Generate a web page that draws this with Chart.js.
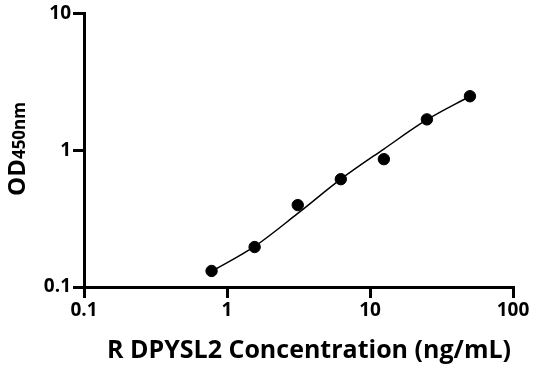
<!DOCTYPE html>
<html>
<head>
<meta charset="utf-8">
<script src="https://cdn.jsdelivr.net/npm/chart.js"></script>
<style>
  html, body { margin: 0; padding: 0; background: #fff; }
  #wrap { width: 536px; height: 371px; }
</style>
</head>
<body>
<div id="wrap"><canvas id="chart" width="536" height="371"></canvas></div>
<script>
    // ▼ 데이터
    const concentrations = [0.78, 1.56, 3.125, 6.25, 12.5, 25, 50];
    const odValues = [0.131, 0.196, 0.397, 0.614, 0.86, 1.68, 2.48];
    // ▼ 곡선(fit) 위치도 그림에서 읽은 값
    const fitX = [0.78, 1.56, 3.125, 6.25, 12.5, 25, 50];
    const fitY = [0.13, 0.198, 0.345, 0.614, 1.02, 1.67, 2.48];
    const xTicks = [0.1, 1, 10, 100];
    const yTicks = [0.1, 1, 10];

    const FONT = '"Open Sans", "DejaVu Sans", sans-serif';

    // ▼ 축 제목 그리기
    const titlePlugin = {
        id: 'titles',
        afterDraw(chart) {
            const ctx = chart.ctx;
            ctx.save();
            ctx.fillStyle = '#000';
            ctx.textBaseline = 'middle';
            ctx.textAlign = 'center';
            ctx.font = `bold 25px ${FONT}`;
            ctx.fillText('R DPYSL2 Concentration (ng/mL)', 309, 351);

            // OD450nm (세로)
            ctx.translate(16, 149);
            ctx.rotate(-Math.PI / 2);
            ctx.textAlign = 'left';
            ctx.textBaseline = 'alphabetic';
            ctx.font = `bold 24px ${FONT}`;
            const w1 = ctx.measureText('OD').width;
            ctx.font = `bold 17px ${FONT}`;
            const w2 = ctx.measureText('450nm').width;
            const start = -(w1 + w2) / 2;
            ctx.font = `bold 24px ${FONT}`;
            ctx.fillText('OD', start, 9);
            ctx.font = `bold 17px ${FONT}`;
            ctx.fillText('450nm', start + w1, 9);
            ctx.restore();
        }
    };

    const axisCommon = {
        type: 'logarithmic',
        grid: { display: true, drawOnChartArea: false, drawTicks: true, tickLength: 11, color: '#000', lineWidth: 3 },
        border: { display: true, color: '#000', width: 3 },
        ticks: { color: '#000', font: { family: FONT, size: 19, weight: 'bold' }, padding: 2, callback: v => String(v) }
    };

    new Chart(document.getElementById('chart').getContext('2d'), {
        type: 'scatter',
        data: {
            datasets: [
                {
                    data: fitX.map((x, i) => ({ x, y: fitY[i] })),
                    showLine: true,
                    borderColor: '#000',
                    borderWidth: 1.5,
                    pointRadius: 0,
                    cubicInterpolationMode: 'monotone',
                    fill: false
                },
                {
                    data: concentrations.map((x, i) => ({ x, y: odValues[i] })),
                    backgroundColor: '#000',
                    borderColor: '#000',
                    pointRadius: 5.7,
                    showLine: false
                }
            ]
        },
        options: {
            responsive: false,
            animation: false,
            devicePixelRatio: 1,
            layout: { padding: { top: 13, right: 23, left: 0, bottom: 0 } },
            plugins: { legend: { display: false }, tooltip: { enabled: false } },
            scales: {
                x: {
                    ...axisCommon,
                    min: 0.1, max: 100,
                    afterBuildTicks: s => { s.ticks = xTicks.map(v => ({ value: v })); },
                    afterFit: s => { s.height = 84; },
                    ticks: { ...axisCommon.ticks, padding: 1, maxRotation: 0, autoSkip: false }
                },
                y: {
                    ...axisCommon,
                    min: 0.1, max: 10,
                    afterBuildTicks: s => { s.ticks = yTicks.map(v => ({ value: v })); },
                    afterFit: s => { s.width = 84; }
                }
            }
        },
        plugins: [titlePlugin]
    });
</script>
</body>
</html>
